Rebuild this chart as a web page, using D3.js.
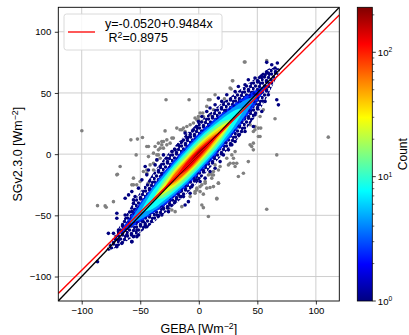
<!DOCTYPE html>
<html>
<head>
<meta charset="utf-8">
<script src="https://cdn.jsdelivr.net/npm/d3@7"></script>
<style>
  body { margin: 0; background: #fff; }
  svg { display: block; font-family: "Liberation Sans", Arial, sans-serif; }
</style>
</head>
<body>
<script>
// ---- data ----
var xTicks = [-100, -50, 0, 50, 100];
var yTicks = [-100, -50, 0, 50, 100];
var cbTicks = [1, 10, 100];
var cbMinor = [2, 3, 4, 5, 6, 7, 8, 9, 20, 30, 40, 50, 60, 70, 80, 90, 200];
var countMax = 230;

var fitIntercept = -0.0520;
var fitSlope = 0.9484;
var fitLabel = "y=-0.0520+0.9484x";
var r2Label = "0.8975";

// outliers (grey)
var greyPts = [
  [-99.9, 19.1], [-28, 44.4], [-8.3, 44.4], [-58, 11.7], [-52.4, 12.3], [-48.1, 13.6],
  [-53.5, -0.6], [-67.2, -10.1], [-43, 6.2], [-28.8, 19], [-30.2, 10.3], [-27.3, 11.7],
  [-23, 13.1], [-31.6, 7.6], [-18.8, 21.3], [-14.5, 19.9], [-11.7, 18.5], [-7.4, 24],
  [-4.6, 25.4], [-1.7, 28.1], [-0.3, 30.8], [-34.5, 3.5], [-35.8, -0.6], [-38.7, 0.8],
  [-33, -3.3], [39.5, 75.3], [28.7, 60], [27.6, 53.2], [21.9, 45.3], [13.9, 48.5],
  [8.2, 44.4], [12.5, 36.3], [3.4, 33.6], [9.6, 32.2], [65.1, 28.9], [52.9, 21.3],
  [52.3, 14.4], [46.6, 18.5], [48, 22.6], [43.8, 24], [110.6, 13.9], [66.6, -0.6],
  [32.4, -7.4], [26.7, -7.4], [18.2, -10.1], [13.9, -8.8], [58, -45], [8.2, -51],
  [3.9, -43.7], [15.4, -36.6], [16.7, -23.7], [12.5, -26.5], [6.8, -27.8], [2.6, -25.1],
  [3.9, -32.7], [9.6, -27.3], [5.4, -22.4], [11.1, -19.6], [-14.5, -42.9], [31, -10.1],
  [29.6, -3.3], [38.1, -15.6], [45.2, 6.2], [50.9, 14.4], [42.3, -6.1], [33.8, -18.3],
  [9.6, -15.6], [12.5, -14.2], [11.1, -16.9], [1.1, -26.5], [-3.2, -30.6], [-1.7, -27.8],
  [5.4, -23.7], [-86.5, -42.1], [-79.1, -43.4], [-72.9, -38.8], [-70, -16.9],
  [-47.3, -14.2], [-44.4, -15.6], [-38.7, -12.9], [-55.8, -25.1], [-50.1, -22.4],
  [-43, -23.7], [-7.4, -34.7], [1.1, -30.6], [2.6, -41.5], [-69.5, -16.4], [-80, -42.3],
  [-44.4, -12.9], [-41.6, -8.8], [-38.7, -7.4], [-37.3, 6.2], [-34.5, 9], [-31.6, 10.3],
  [-27.3, 7.6], [-24.5, 9], [-30.2, 4.9], [-23, -45.6], [-20.2, -47], [-26, -44.2],
  [-33, 4.9], [-21.7, 13.1], [-16, 19.9], [-13.1, 21.3], [-10.2, 22.6], [-3.2, 29.5],
  [-44.4, 6.2], [-43, -2], [-34.5, -0.6], [-35.8, -4.7], [-55.8, -19.6], [-53, -25.1],
  [-57.2, -25.1], [-1.7, -29.2], [-3.2, -31.9], [38.9, 75.3], [58, 76.4], [29, 60],
  [26.7, 54], [9.6, 44.4], [6.8, 39], [1.1, 33.6], [3.9, 30.8], [-0.3, 28.1], [2.6, 26.7],
  [55.1, 36.3], [52.3, 30.8], [50.9, 21.3], [48, 19.9], [46.6, 9], [43.8, 7.6], [46.6, 3.5],
  [31, 2.1], [28.2, -0.6], [23.9, -3.3], [29.6, -7.4], [25.3, -8.8], [16.8, -12.9],
  [12.5, -17], [8.2, -17], [15.4, -36], [16.8, -23.7]
];

// sparse single-count points on the rim of the cloud
var rimPts = [
  [-86.5, -87.9], [-70, -48.3], [-77.2, -64.7], [-72.9, -64.7], [-68.6, -70.1], [-65.7, -72.9],
  [-70, -75.6], [-57.2, -71.5], [-52.9, -67.4], [-68.6, -62], [-64.4, -59.3], [-61.5, -60.6],
  [-58.6, -56.5], [-54.4, -55.2], [-57.2, -52.4], [-50.1, -45.6], [-55.8, -40.1], [-54.4, -34.7],
  [-47.3, -37.4], [-44.4, -42.9], [-62.9, -49.7], [-70, -52.4], [-61.5, -66], [-55.8, -67.4],
  [-52.9, -62], [-57.2, -47], [-47.3, -55.2], [-44.4, -59.3], [-62.9, -36], [-50.1, -44.2],
  [-40.1, -41.5], [-35.8, -49.7], [-30.2, -44.2], [-24.5, -41.5], [-33, -34.7], [-55.8, -37.4],
  [-57.2, -30.6], [-60, -33.3], [-51.5, -27.8], [-48.6, -21], [-44.4, -16.9], [-43, -12.9],
  [-45.8, -10.1], [-37.3, -8.8], [-35.8, -4.7], [-33, -10.1], [-30.2, -0.6], [-27.3, -3.3],
  [-23, 2.1], [-20.2, 3.5], [-17.4, 7.6], [-14.5, 10.3], [-10.2, 13.1], [-7.4, 15.8],
  [-4.6, 19.9], [-1.7, 22.6], [-0.3, 26.7], [-11.7, 17.2], [-34.5, -41.5], [-25.9, -47],
  [-31.6, -49.7], [-20.2, -38.8], [-16, -34.7], [-11.7, -41.5], [-45.8, -57.9], [-57.2, -71.5],
  [-51.5, -66], [13.9, 40.4], [16.7, 45.8], [19.6, 43.1], [23.9, 48.5], [31, 51.2],
  [33.8, 55.3], [39.5, 56.7], [42.3, 60.8], [48, 62.2], [50.9, 59.4], [53.8, 63.5],
  [56.6, 64.9], [59.4, 66.3], [6.8, 34.9], [2.6, 30.8], [9.6, 37.7], [36.7, 26.7],
  [42.3, 29.5], [48, 32.2], [53.8, 34.9], [56.6, 43.1], [50.9, 40.4], [39.5, 18.5],
  [33.8, 15.8], [31, 10.3], [28.2, 7.6], [46.6, 22.6], [59.4, 48.5], [25.3, 3.5],
  [21, -0.6], [18.2, -6.1], [13.9, -11.5], [9.6, -14.2], [5.4, -19.6], [1.1, -22.4],
  [66.6, 44.4], [68, 40.3], [65.1, 70.4], [67.1, 74.5], [62.3, 73.1], [58, 75],
  [-13.1, -34.7], [-8.9, -38.8], [-16, -30.6], [-7.4, -31.9], [-1.7, -21], [-6, -26.5]
];

// dense part of the cloud, read as bands along the 1:1 line
var bandX   = [-80, -70, -60, -50, -40, -30, -20, -10, 0, 10, 20, 30, 40, 50, 60, 70];
var rimHi   = [0, 7, 14, 19, 23, 26, 27, 27, 26, 24, 22, 19, 16, 13, 10, 0];
var rimLo   = [0, -6, -10, -14, -17, -19, -21, -22, -22, -21, -21, -21, -20, -17, -10, 0];
var bandMid = [2.5, 3, 3, 2.5, 2, 1.5, 1, 0.5, 0.5, 0, -0.5, -1, -1.5, -2, -2.5, -3];
var bandCounts = [2.5, 4.5, 8, 14, 25, 42, 70, 120, 200];
var bandHalf = [
  [null, 0, 4, 8, 11, 14, 15.5, 16.5, 16.5, 16, 14, 12, 9, 5, 0, null],
  [null, null, 0, 6, 9.5, 12, 13.5, 14.5, 14.5, 13.5, 12, 9.5, 6, 0, null, null],
  [null, null, null, 0, 7, 9.5, 11.5, 12.5, 12.5, 11.5, 9.5, 6.5, 0, null, null, null],
  [null, null, null, null, 0, 7, 9.5, 10.5, 10.5, 9.5, 7, 0, null, null, null, null],
  [null, null, null, null, 0, 4, 7, 8, 8, 7, 4.5, 0, null, null, null, null],
  [null, null, null, null, null, 0, 5, 6, 6.5, 5, 2.5, 0, null, null, null, null],
  [null, null, null, null, null, 0, 3.5, 5, 5, 3.5, 0, null, null, null, null, null],
  [null, null, null, null, null, null, 0, 3.5, 3.5, 2, 0, null, null, null, null, null],
  [null, null, null, null, null, null, null, 0, 2, 0, null, null, null, null, null, null]
];

// ---- layout ----
var W = 409, H = 335;
var plot = { left: 58.3, right: 339.3, top: 7.3, bottom: 301 };
var cb = { left: 357.3, right: 372.3 };
var tickFont = 9.6, labelFont = 12.5;

function jet(t) {
  var c = function (v) { return Math.max(0, Math.min(1, v)); };
  var r = c(1.5 - Math.abs(4 * t - 3)), g = c(1.5 - Math.abs(4 * t - 2)), b = c(1.5 - Math.abs(4 * t - 1));
  return d3.rgb(r * 255, g * 255, b * 255).formatHex();
}

var x = d3.scaleLinear().domain([-120, 120]).range([plot.left, plot.right]);
var y = d3.scaleLinear().domain([-120, 120]).range([plot.bottom, plot.top]);
var cnorm = d3.scaleLog().domain([1, countMax]).range([0, 1]).clamp(true);
var color = function (n) { return jet(cnorm(n)); };

var svg = d3.select("body").append("svg").attr("width", W).attr("height", H);
var defs = svg.append("defs");

defs.append("clipPath").attr("id", "clip")
  .append("rect").attr("x", plot.left).attr("y", plot.top)
  .attr("width", plot.right - plot.left).attr("height", plot.bottom - plot.top);
defs.append("filter").attr("id", "soft")
  .append("feGaussianBlur").attr("stdDeviation", 0.7);

// speckle fill for the single-count rim, so it reads as separate dots
var speck = defs.append("pattern").attr("id", "speck").attr("patternUnits", "userSpaceOnUse")
  .attr("width", 9).attr("height", 9);
[[1.5, 2], [5.5, 1], [3.5, 5], [7.5, 5.5], [1, 7.5], [5.5, 8.5], [8.5, 2.5]].forEach(function (p) {
  speck.append("circle").attr("cx", p[0]).attr("cy", p[1]).attr("r", 1.75).attr("fill", color(1));
});
// low-count band: blue with a few navy dots mixed in
var speck2 = defs.append("pattern").attr("id", "speck2").attr("patternUnits", "userSpaceOnUse")
  .attr("width", 8).attr("height", 8);
speck2.append("rect").attr("width", 8).attr("height", 8).attr("fill", color(bandCounts[0]));
[[2, 2], [6, 5.5], [1.5, 6.5]].forEach(function (p) {
  speck2.append("circle").attr("cx", p[0]).attr("cy", p[1]).attr("r", 1.6).attr("fill", color(1.3));
});

// grid
var grid = svg.append("g").attr("stroke", "#c8c8c8").attr("stroke-width", 0.9);
grid.selectAll(".gx").data(xTicks).enter().append("line")
  .attr("x1", function (d) { return x(d); }).attr("x2", function (d) { return x(d); })
  .attr("y1", plot.top).attr("y2", plot.bottom);
grid.selectAll(".gy").data(yTicks).enter().append("line")
  .attr("y1", function (d) { return y(d); }).attr("y2", function (d) { return y(d); })
  .attr("x1", plot.left).attr("x2", plot.right);

var area = svg.append("g").attr("clip-path", "url(#clip)");

// outliers
area.append("g").selectAll("circle").data(greyPts).enter().append("circle")
  .attr("cx", function (d) { return x(d[0]); })
  .attr("cy", function (d) { return y(d[1]); })
  .attr("r", 1.8).attr("fill", "#808080");

// rim of the cloud (count 1)
var rimRows = bandX.map(function (v, i) { return { x: v, lo: rimLo[i], hi: rimHi[i] }; });
area.append("path").datum(rimRows)
  .attr("fill", "url(#speck)")
  .attr("d", d3.area().curve(d3.curveCatmullRom)
    .x(function (d) { return x(d.x); })
    .y0(function (d) { return y(d.x + d.lo); })
    .y1(function (d) { return y(d.x + d.hi); }));

area.append("g").selectAll("circle").data(rimPts).enter().append("circle")
  .attr("cx", function (d) { return x(d[0]); })
  .attr("cy", function (d) { return y(d[1]); })
  .attr("r", 1.8).attr("fill", color(1));

// denser bands
var core = area.append("g");
bandHalf.forEach(function (halves, k) {
  var rows = bandX.map(function (v, i) { return { x: v, m: bandMid[i], h: halves[i] }; });
  core.append("path").datum(rows)
    .attr("fill", k === 0 ? "url(#speck2)" : color(bandCounts[k]))
    .attr("filter", k === 0 ? null : "url(#soft)")
    .attr("d", d3.area().curve(d3.curveCatmullRom)
      .defined(function (d) { return d.h !== null; })
      .x(function (d) { return x(d.x); })
      .y0(function (d) { return y(d.x + d.m - d.h); })
      .y1(function (d) { return y(d.x + d.m + d.h); }));
});

// 1:1 and fitted lines
var ends = [-120, 120];
area.append("line")
  .attr("x1", x(ends[0])).attr("y1", y(ends[0]))
  .attr("x2", x(ends[1])).attr("y2", y(ends[1]))
  .attr("stroke", "#000").attr("stroke-width", 1.3);
area.append("line")
  .attr("x1", x(ends[0])).attr("y1", y(fitIntercept + fitSlope * ends[0]))
  .attr("x2", x(ends[1])).attr("y2", y(fitIntercept + fitSlope * ends[1]))
  .attr("stroke", "#ff0000").attr("stroke-width", 1.3);

// axes
var fmt = function (d) { return d < 0 ? "\u2212" + Math.abs(d) : String(d); };
var xAxis = svg.append("g").attr("transform", "translate(0," + plot.bottom + ")")
  .call(d3.axisBottom(x).tickValues(xTicks).tickFormat(fmt).tickSize(3.5).tickPadding(3));
var yAxis = svg.append("g").attr("transform", "translate(" + plot.left + ",0)")
  .call(d3.axisLeft(y).tickValues(yTicks).tickFormat(fmt).tickSize(3.5).tickPadding(3.5));
[xAxis, yAxis].forEach(function (g) {
  g.select(".domain").remove();
  g.selectAll("line").attr("stroke", "#000").attr("stroke-width", 0.8);
  g.selectAll("text").attr("fill", "#000").style("font-size", tickFont + "px")
    .style("font-family", '"Liberation Sans", Arial, sans-serif');
});

svg.append("rect").attr("x", plot.left).attr("y", plot.top)
  .attr("width", plot.right - plot.left).attr("height", plot.bottom - plot.top)
  .attr("fill", "none").attr("stroke", "#000").attr("stroke-width", 0.9);

// axis labels
var xl = svg.append("text").attr("x", (plot.left + plot.right) / 2).attr("y", 333)
  .attr("text-anchor", "middle").style("font-size", labelFont + "px");
xl.append("tspan").text("GEBA [Wm");
xl.append("tspan").attr("dy", "-0.45em").style("font-size", "0.7em").text("\u22122");
xl.append("tspan").attr("dy", "0.32em").text("]");

var yl = svg.append("text").attr("transform", "translate(22," + ((plot.top + plot.bottom) / 2) + ") rotate(-90)")
  .attr("text-anchor", "middle").style("font-size", labelFont + "px");
yl.append("tspan").text("SGv2.3.0 [Wm");
yl.append("tspan").attr("dy", "-0.45em").style("font-size", "0.7em").text("\u22122");
yl.append("tspan").attr("dy", "0.32em").text("]");

// legend
var lg = svg.append("g");
lg.append("rect").attr("x", 64).attr("y", 14).attr("width", 158).attr("height", 36).attr("rx", 2.5)
  .attr("fill", "#fff").attr("fill-opacity", 0.85).attr("stroke", "#d6d6d6").attr("stroke-width", 0.9);
lg.append("line").attr("x1", 68).attr("x2", 95).attr("y1", 32).attr("y2", 32)
  .attr("stroke", "#ff0000").attr("stroke-width", 1.3);
lg.append("text").attr("x", 105).attr("y", 28).style("font-size", labelFont + "px").text(fitLabel);
var r2 = lg.append("text").attr("x", 108.5).attr("y", 42).style("font-size", labelFont + "px");
r2.append("tspan").text("R");
r2.append("tspan").attr("dy", "-0.45em").style("font-size", "0.7em").text("2");
r2.append("tspan").attr("dy", "0.315em").text("=" + r2Label);

// colour bar
var cy = d3.scaleLog().domain([1, countMax]).range([plot.bottom, plot.top]);
var grad = defs.append("linearGradient").attr("id", "jet")
  .attr("x1", 0).attr("y1", 1).attr("x2", 0).attr("y2", 0);
d3.range(0, 1.0001, 0.025).forEach(function (t) {
  grad.append("stop").attr("offset", t).attr("stop-color", jet(t));
});
svg.append("rect").attr("x", cb.left).attr("y", plot.top)
  .attr("width", cb.right - cb.left).attr("height", plot.bottom - plot.top)
  .attr("fill", "url(#jet)").attr("stroke", "#000").attr("stroke-width", 0.8);

var cbg = svg.append("g");
cbg.selectAll(".mn").data(cbMinor).enter().append("line")
  .attr("x1", cb.right).attr("x2", cb.right + 2)
  .attr("y1", function (d) { return cy(d); }).attr("y2", function (d) { return cy(d); })
  .attr("stroke", "#000").attr("stroke-width", 0.6);
cbg.selectAll(".mj").data(cbTicks).enter().append("line")
  .attr("x1", cb.right).attr("x2", cb.right + 3.5)
  .attr("y1", function (d) { return cy(d); }).attr("y2", function (d) { return cy(d); })
  .attr("stroke", "#000").attr("stroke-width", 0.8);
cbTicks.forEach(function (d) {
  var t = cbg.append("text").attr("x", cb.right + 5.5).attr("y", cy(d) + 3.5)
    .style("font-size", tickFont + "px");
  t.append("tspan").text("10");
  t.append("tspan").attr("dy", "-0.5em").style("font-size", "0.7em").text(String(Math.round(Math.log10(d))));
});
svg.append("text").attr("transform", "translate(407," + ((plot.top + plot.bottom) / 2) + ") rotate(-90)")
  .attr("text-anchor", "middle").style("font-size", "12px").text("Count");
</script>
</body>
</html>
